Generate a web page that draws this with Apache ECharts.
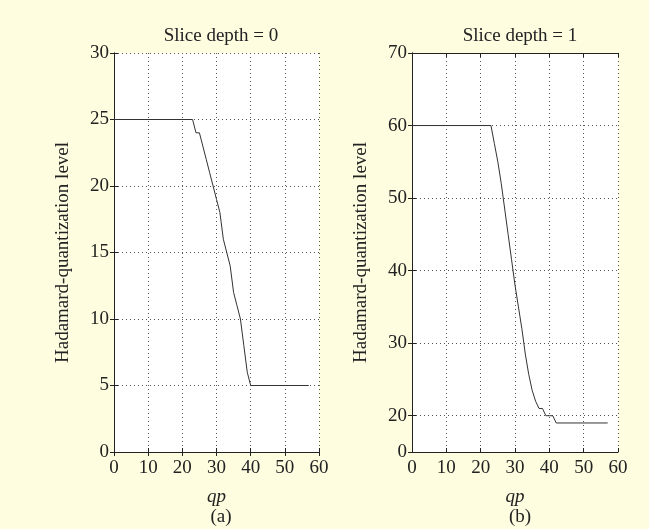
<!DOCTYPE html>
<html>
<head>
<meta charset="utf-8">
<script src="https://cdn.jsdelivr.net/npm/echarts@6/dist/echarts.min.js"></script>
<style>
  html, body { margin: 0; padding: 0; background: #fefde0; }
  #chart { width: 649px; height: 529px; }
</style>
</head>
<body>
<div id="chart"></div>
<script>
// (a) slice depth = 0
const qpA = [0, 23, 24, 25, 26, 27, 28, 29, 30, 31, 32, 33, 34, 35, 36, 37, 38, 39, 40, 57]
const levelA = [25, 25, 24, 24, 23, 22, 21, 20, 19, 18, 16, 15, 14, 12, 11, 10, 8, 6, 5, 5]

// (b) slice depth = 1
const qpB = [0, 23, 24, 25, 26, 27, 28, 29, 30, 31, 32, 33, 34, 35, 36, 37, 38, 39, 40, 41, 42, 57]
const levelB = [60, 60, 57.5, 55, 52, 48.5, 45, 41.5, 38, 35, 32, 28.5, 25.7, 23.5, 22, 21, 21, 20, 20, 20, 19, 19]

// tick labels
const yTicksB = [15, 20, 30, 40, 50, 60, 70] // 15 is the bottom of the broken axis, shown as "0"

const font = "'Liberation Serif', 'DejaVu Serif', serif"
const ink = '#222'
const fs = 19
const gridLine = { show: true, lineStyle: { color: '#555', type: [1, 3], width: 1 } }

function xAxisPair(gi) {
    return [
        {
            type: 'value', gridIndex: gi, min: 0, max: 60, interval: 10,
            name: 'qp', nameLocation: 'middle', nameGap: 35,
            nameTextStyle: { fontFamily: font, fontSize: fs, fontStyle: 'italic', color: ink },
            axisLine: { lineStyle: { color: ink } },
            axisTick: { inside: true, length: 4, lineStyle: { color: ink } },
            axisLabel: { fontFamily: font, fontSize: fs, color: ink, margin: 7 },
            splitLine: gridLine,
        },
        {
            type: 'value', gridIndex: gi, position: 'top', min: 0, max: 60, interval: 10,
            axisLine: { lineStyle: { color: ink } },
            axisTick: { inside: true, length: 4, lineStyle: { color: ink } },
            axisLabel: { show: false }, splitLine: { show: false },
        },
    ]
}

const yName = {
    name: 'Hadamard-quantization level', nameLocation: 'middle', nameGap: 41,
    nameTextStyle: { fontFamily: font, fontSize: fs, color: ink },
}

const titleStyle = { fontFamily: font, fontSize: fs, fontWeight: 'normal', color: ink }

const option = {
    backgroundColor: '#fefde0',
    animation: false,
    title: [
        { text: 'Slice depth = 0', left: 216, top: 22, textAlign: 'center', textStyle: titleStyle },
        { text: 'Slice depth = 1', left: 515, top: 22, textAlign: 'center', textStyle: titleStyle },
        { text: '(a)', left: 216, top: 503, textAlign: 'center', textStyle: titleStyle },
        { text: '(b)', left: 515, top: 503, textAlign: 'center', textStyle: titleStyle },
    ],
    grid: [
        { left: 114, right: 330, top: 53, bottom: 77, show: true, backgroundColor: '#fff', borderWidth: 0 },
        { left: 412, right: 31, top: 53, bottom: 77, show: true, backgroundColor: '#fff', borderWidth: 0 },
    ],
    xAxis: [...xAxisPair(0), ...xAxisPair(1)],
    yAxis: [
        {
            type: 'value', gridIndex: 0, min: 0, max: 30, interval: 5, ...yName,
            axisLine: { lineStyle: { color: ink } },
            axisTick: { inside: true, length: 4, lineStyle: { color: ink } },
            axisLabel: { fontFamily: font, fontSize: fs, color: ink, margin: 5 },
            splitLine: gridLine,
        },
        {
            type: 'value', gridIndex: 0, position: 'right', min: 0, max: 30, interval: 5,
            axisLine: { show: true, lineStyle: { color: ink } },
            axisTick: { show: true, inside: true, length: 4, lineStyle: { color: ink } },
            axisLabel: { show: false }, splitLine: { show: false },
        },
        {
            type: 'value', gridIndex: 1, min: 15, max: 70, interval: 5, ...yName,
            axisLine: { lineStyle: { color: ink } },
            axisTick: { inside: true, length: 4, lineStyle: { color: ink }, customValues: yTicksB },
            axisLabel: { fontFamily: font, fontSize: fs, color: ink, margin: 5, customValues: yTicksB, formatter: (v) => (v === 15 ? '0' : String(v)) },
            splitLine: gridLine,
        },
        {
            type: 'value', gridIndex: 1, position: 'right', min: 15, max: 70, interval: 5,
            axisLine: { show: true, lineStyle: { color: ink } },
            axisTick: { show: true, inside: true, length: 4, lineStyle: { color: ink }, customValues: yTicksB },
            axisLabel: { show: false }, splitLine: { show: false },
        },
    ],
    series: [
        {
            type: 'line', xAxisIndex: 0, yAxisIndex: 0, showSymbol: false,
            lineStyle: { color: '#333', width: 1 },
            data: qpA.map((q, i) => [q, levelA[i]]),
        },
        {
            type: 'line', xAxisIndex: 2, yAxisIndex: 2, showSymbol: false,
            lineStyle: { color: '#333', width: 1 },
            data: qpB.map((q, i) => [q, levelB[i]]),
        },
    ],
}

const chart = echarts.init(document.getElementById('chart'))
chart.setOption(option)
</script>
</body>
</html>
